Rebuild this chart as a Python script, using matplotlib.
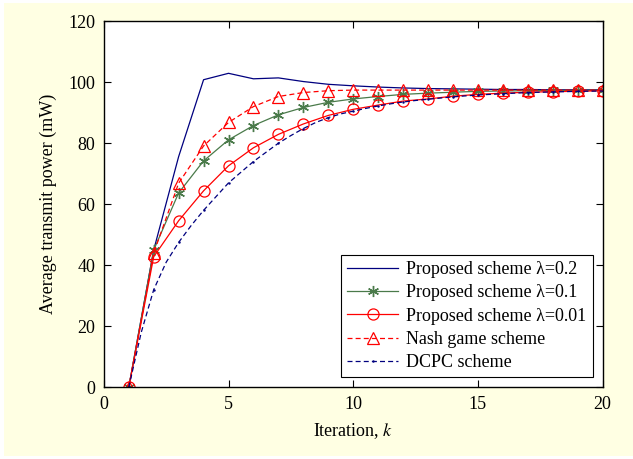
import numpy as np
import matplotlib.pyplot as plt
from matplotlib.patches import Rectangle

plt.rcParams['font.family'] = ['Liberation Serif', 'DejaVu Serif']
plt.rcParams['mathtext.fontset'] = 'stix'

# --- average transmit power per iteration (mW) ---
k = np.arange(1, 21)
p_lam02 = [0, 45, 75.6, 100.8, 102.9, 101.1, 101.4, 100.2, 99.3, 98.8,
           98.4, 98.1, 97.9, 97.8, 97.7, 97.6, 97.6, 97.5, 97.5, 97.5]
p_lam01 = [0, 45, 63.7, 74.2, 81.1, 85.8, 89.3, 91.7, 93.4, 94.5,
           95.3, 96.0, 96.4, 96.7, 97.0, 97.1, 97.2, 97.3, 97.3, 97.4]
p_lam001 = [0, 42.8, 54.6, 64.4, 72.6, 78.5, 82.9, 86.3, 89.1, 91.1,
            92.5, 93.8, 94.5, 95.4, 96.0, 96.4, 96.7, 96.9, 97.0, 97.2]
p_nash = [0, 44, 66.9, 79.1, 86.8, 92.0, 95.3, 96.6, 97.2, 97.4,
          97.4, 97.4, 97.4, 97.4, 97.4, 97.4, 97.4, 97.4, 97.4, 97.4]

# DCPC is sampled every half iteration
k_dcpc = np.arange(1, 20.5, 0.5)
p_dcpc = [0, 18, 32, 41, 47.5, 53, 58, 62.5, 67, 70.5,
          74, 77, 80, 82.5, 84.8, 86.8, 88.4, 89.6, 90.5, 91.4,
          92.2, 92.9, 93.5, 94.0, 94.4, 94.8, 95.2, 95.5, 95.8, 96.0,
          96.2, 96.4, 96.6, 96.7, 96.8, 96.9, 97.0, 97.05, 97.1]

navy = '#00007f'
green = '#4a7a4a'
red = '#ff0000'

fig = plt.figure(figsize=(6.33, 4.59), dpi=100, facecolor='white')
# pale yellow panel with a thin white margin on the left, top and bottom
fig.patches.append(Rectangle((4 / 633, 3 / 459), 1, 1 - 6 / 459,
                             transform=fig.transFigure, facecolor='#ffffe3',
                             edgecolor='none', zorder=-10))
ax = fig.add_axes([0.164, 0.156, 0.788, 0.798])

ax.plot(k, p_lam02, color=navy, lw=0.9, label='Proposed scheme λ=0.2')
ax.plot(k, p_lam01, color=green, lw=0.9, marker=(6, 2, 0), ms=8,
        mew=1.0, label='Proposed scheme λ=0.1')
ax.plot(k, p_lam001, color=red, lw=0.9, marker='o', ms=8, mfc='none',
        mew=0.9, label='Proposed scheme λ=0.01')
ax.plot(k, p_nash, color=red, lw=0.9, ls=(0, (4, 2.5)), marker='^', ms=9,
        mfc='none', mew=0.9, label='Nash game scheme')
ax.plot(k_dcpc, p_dcpc, color=navy, lw=0.9, ls=(0, (4, 2.5)),
        marker='.', ms=1.5, markevery=2, label='DCPC scheme')

ax.set_xlim(0, 20)
ax.set_ylim(0, 120)
ax.set_xticks([0, 5, 10, 15, 20])
ax.set_yticks(np.arange(0, 121, 20))
ax.tick_params(direction='in', top=True, right=True, length=5,
               width=0.8, labelsize=13, pad=6)
for s in ax.spines.values():
    s.set_linewidth(1.0)

ax.set_xlabel('Iteration, $k$', fontsize=13, labelpad=6)
ax.set_ylabel('Average transmit power (mW)', fontsize=13, labelpad=8)

leg = ax.legend(loc='lower right', fontsize=13, frameon=True, fancybox=False,
                edgecolor='black', framealpha=1, handlelength=2.8,
                labelspacing=0.35, borderpad=0.35, handletextpad=0.45,
                borderaxespad=0.55)
leg.get_frame().set_linewidth(0.8)

fig.savefig('out.png', dpi=100, facecolor=fig.get_facecolor())
